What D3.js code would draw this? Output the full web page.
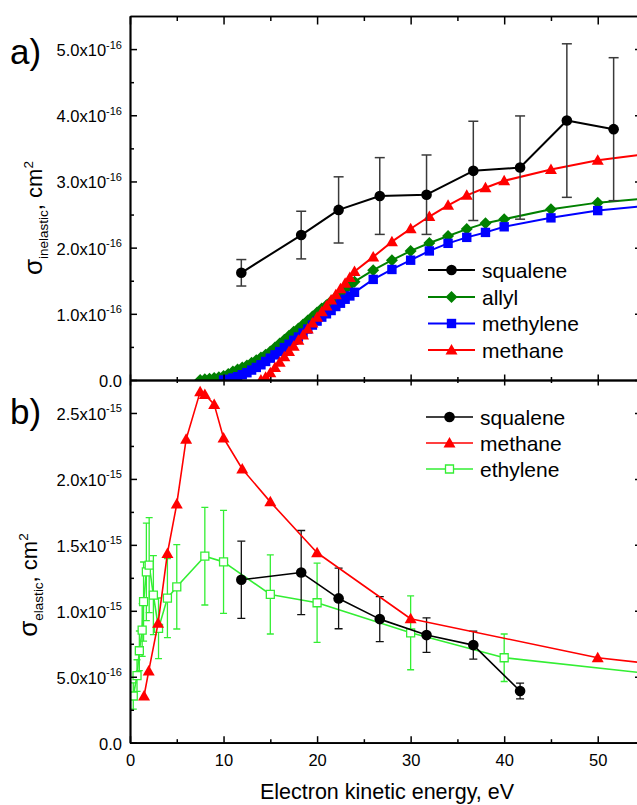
<!DOCTYPE html>
<html><head><meta charset="utf-8">
<script src="https://cdn.jsdelivr.net/npm/d3@7"></script>
<style>body{margin:0;background:#fff} svg text{font-family:"Liberation Sans",Arial,sans-serif;fill:#000}</style>
</head><body><svg id="c" width="637" height="805"></svg>
<script>
// ---------- DATA ----------
// x axis: electron kinetic energy (eV)
const xTickValues = [0, 10, 20, 30, 40, 50];
const xMinorValues = [5, 15, 25, 35, 45, 55];

// panel a) inelastic cross sections, units of 1e-16 cm^2
const inelTickValues = [0, 1, 2, 3, 4, 5];
const inelMinorValues = [0.5, 1.5, 2.5, 3.5, 4.5];
const inelTickLabels = [["0.0", ""], ["1.0x10", "-16"], ["2.0x10", "-16"], ["3.0x10", "-16"], ["4.0x10", "-16"], ["5.0x10", "-16"]];

const squaleneInelE   = [11.9, 18.3, 22.3, 26.7, 31.7, 36.7, 41.7, 46.7, 51.7];
const squaleneInel    = [1.62, 2.19, 2.57, 2.78, 2.80, 3.16, 3.21, 3.92, 3.79];
const squaleneInelErr = [0.20, 0.36, 0.50, 0.58, 0.60, 0.75, 0.78, 1.16, 1.08];

const allylE = [7.5, 8, 8.5, 9, 9.5, 10, 10.5, 11, 11.5, 12, 12.5, 13, 13.5, 14, 14.5, 15, 15.5, 16, 16.5, 17, 17.5, 18, 18.5, 19, 19.5, 20, 20.5, 21, 21.5, 22, 22.5, 23, 23.5, 24, 26, 28, 30, 32, 34, 36, 38, 40, 45, 50, 55];
const allyl  = [0.00, 0.01, 0.02, 0.03, 0.04, 0.06, 0.09, 0.13, 0.16, 0.19, 0.22, 0.26, 0.30, 0.34, 0.38, 0.43, 0.49, 0.55, 0.61, 0.67, 0.73, 0.78, 0.84, 0.90, 0.96, 1.02, 1.08, 1.13, 1.19, 1.25, 1.31, 1.37, 1.43, 1.485, 1.66, 1.81, 1.95, 2.07, 2.175, 2.28, 2.37, 2.43, 2.58, 2.68, 2.74];

const methyleneE = [10, 10.5, 11, 11.5, 12, 12.5, 13, 13.5, 14, 14.5, 15, 15.5, 16, 16.5, 17, 17.5, 18, 18.5, 19, 19.5, 20, 20.5, 21, 21.5, 22, 22.5, 23, 23.5, 24, 26, 28, 30, 32, 34, 36, 38, 40, 45, 50, 55];
const methylene  = [0.00, 0.01, 0.03, 0.05, 0.08, 0.11, 0.15, 0.19, 0.23, 0.28, 0.33, 0.38, 0.43, 0.49, 0.54, 0.60, 0.65, 0.71, 0.77, 0.83, 0.89, 0.95, 1.00, 1.05, 1.11, 1.16, 1.22, 1.27, 1.325, 1.52, 1.67, 1.81, 1.95, 2.065, 2.155, 2.23, 2.315, 2.45, 2.56, 2.63];

const methaneInelE = [14, 14.5, 15, 15.5, 16, 16.5, 17, 17.5, 18, 18.5, 19, 19.5, 20, 20.5, 21, 21.5, 22, 22.5, 23, 23.5, 24, 26, 28, 30, 32, 34, 36, 38, 40, 45, 50, 55];
const methaneInel  = [0.00, 0.04, 0.11, 0.19, 0.27, 0.35, 0.43, 0.51, 0.60, 0.68, 0.77, 0.86, 0.95, 1.03, 1.12, 1.21, 1.29, 1.38, 1.46, 1.55, 1.64, 1.86, 2.09, 2.285, 2.47, 2.64, 2.79, 2.905, 3.01, 3.18, 3.32, 3.41];

// panel b) elastic cross sections, units of 1e-15 cm^2
const elTickValues = [0, 0.5, 1, 1.5, 2, 2.5];
const elMinorValues = [0.25, 0.75, 1.25, 1.75, 2.25];
const elTickLabels = [["0.0", ""], ["5.0x10", "-16"], ["1.0x10", "-15"], ["1.5x10", "-15"], ["2.0x10", "-15"], ["2.5x10", "-15"]];

const squaleneElE   = [11.9, 18.3, 22.3, 26.7, 31.7, 36.7, 41.7];
const squaleneEl    = [1.235, 1.29, 1.094, 0.937, 0.816, 0.740, 0.392];
const squaleneElErr = [0.293, 0.319, 0.23, 0.17, 0.131, 0.106, 0.06];

const methaneElE = [1.5, 2, 3, 4, 5, 6, 7.5, 8, 9, 10, 12, 15, 20, 30, 50, 60];
const methaneEl  = [0.354, 0.543, 0.905, 1.435, 1.81, 2.30, 2.66, 2.64, 2.565, 2.31, 2.075, 1.826, 1.44, 0.94, 0.644, 0.565];

const ethyleneE   = [0.35, 0.75, 1.0, 1.3, 1.45, 1.75, 2.05, 2.5, 3.05, 4, 5, 8, 10, 15, 20, 30, 40, 60];
const ethylene    = [0.354, 0.509, 0.697, 0.854, 1.07, 1.295, 1.346, 1.119, 0.867, 1.096, 1.182, 1.414, 1.371, 1.124, 1.061, 0.833, 0.644, 0.49];
const ethyleneErr = [0.10, 0.12, 0.15, 0.20, 0.30, 0.37, 0.36, 0.30, 0.23, 0.30, 0.32, 0.37, 0.39, 0.30, 0.30, 0.28, 0.18, 0];

// ---------- CHART ----------
const svg = d3.select("#c");
const L = 130, R = 644.5, TOP = 16, MID = 380, BOT = 742.7;
const x = d3.scaleLinear().domain([0, 55]).range([L, R]);
const yA = d3.scaleLinear().domain([0, 5.5]).range([MID, TOP]);
const yB = d3.scaleLinear().domain([0, 2.75]).range([BOT, MID]);

const defs = svg.append("defs");
defs.append("clipPath").attr("id", "clipA").append("rect").attr("x", L).attr("y", TOP).attr("width", R - L).attr("height", MID - TOP);
defs.append("clipPath").attr("id", "clipB").append("rect").attr("x", L).attr("y", MID).attr("width", R - L).attr("height", BOT - MID);

const shapes = {
  circle: "M5.3,0A5.3,5.3 0 1,1 -5.3,0A5.3,5.3 0 1,1 5.3,0Z",
  diamond: "M0,-6L6,0L0,6L-6,0Z",
  square: "M-4.7,-4.7H4.7V4.7H-4.7Z",
  triangle: "M0,-6L6,4.5L-6,4.5Z",
  open: "M-4,-4H4V4H-4Z"
};

function series(g, xs, ys, y, o) {
  const pts = xs.map((e, i) => [e, ys[i], o.err ? o.err[i] : 0]);
  if (o.err) {
    const eg = g.append("g").attr("stroke", o.errColor).attr("stroke-width", o.errW).attr("fill", "none");
    pts.filter(p => p[2] > 0).forEach(p => {
      const cx = x(p[0]), y1 = y(p[1] - p[2]), y2 = y(p[1] + p[2]);
      eg.append("line").attr("x1", cx).attr("x2", cx).attr("y1", y1).attr("y2", y2);
      eg.append("line").attr("x1", cx - o.cap).attr("x2", cx + o.cap).attr("y1", y1).attr("y2", y1);
      eg.append("line").attr("x1", cx - o.cap).attr("x2", cx + o.cap).attr("y1", y2).attr("y2", y2);
    });
  }
  g.append("path").datum(pts)
    .attr("d", d3.line().x(p => x(p[0])).y(p => y(p[1])))
    .attr("fill", "none").attr("stroke", o.color).attr("stroke-width", o.lw).attr("stroke-linejoin", "round");
  g.append("g").selectAll("path").data(pts).join("path")
    .attr("transform", p => `translate(${x(p[0])},${y(p[1])})`)
    .attr("d", shapes[o.shape])
    .attr("fill", o.shape === "open" ? "#fff" : o.color)
    .attr("stroke", o.shape === "open" ? o.color : "none")
    .attr("stroke-width", 1.3);
}

// panel a
const gA = svg.append("g").attr("clip-path", "url(#clipA)");
series(gA, allylE, allyl, yA, {color: "#008000", lw: 2, shape: "diamond"});
series(gA, methyleneE, methylene, yA, {color: "#0000ff", lw: 2, shape: "square"});
series(gA, methaneInelE, methaneInel, yA, {color: "#ff0000", lw: 2, shape: "triangle"});
series(gA, squaleneInelE, squaleneInel, yA, {color: "#000", lw: 2, shape: "circle", err: squaleneInelErr, errColor: "#3a3a3a", errW: 1.5, cap: 5});

// panel b
const gB = svg.append("g").attr("clip-path", "url(#clipB)");
series(gB, ethyleneE, ethylene, yB, {color: "#33ee33", lw: 1.6, shape: "open", err: ethyleneErr, errColor: "#33ee33", errW: 1.3, cap: 3.5});
series(gB, squaleneElE, squaleneEl, yB, {color: "#000", lw: 1.6, shape: "circle", err: squaleneElErr, errColor: "#111", errW: 1.3, cap: 4});
series(gB, methaneElE, methaneEl, yB, {color: "#ff0000", lw: 1.6, shape: "triangle"});

// ---------- AXES ----------
function styleAxis(g) {
  g.selectAll("path.domain").attr("stroke", "#000").attr("stroke-width", 1.7);
  g.selectAll(".tick line").attr("stroke", "#000").attr("stroke-width", 1.5);
}
function sciLabels(g, labels) {
  g.selectAll(".tick text").each(function(d, i) {
    const t = d3.select(this).text(null).attr("font-size", 16.5).attr("x", -8).attr("dy", null).attr("y", 6.5);
    t.append("tspan").text(labels[i][0]);
    if (labels[i][1]) t.append("tspan").attr("font-size", 11).attr("dy", -7.5).text(labels[i][1]);
  });
}

// left axes
const la = svg.append("g").attr("transform", `translate(${L},0)`);
la.call(d3.axisLeft(yA).tickValues(inelTickValues).tickSize(-7).tickSizeOuter(0).tickPadding(8));
sciLabels(la, inelTickLabels); styleAxis(la);
const laM = svg.append("g").attr("transform", `translate(${L},0)`);
laM.call(d3.axisLeft(yA).tickValues(inelMinorValues).tickSize(-4).tickSizeOuter(0).tickFormat(""));
styleAxis(laM);

const lb = svg.append("g").attr("transform", `translate(${L},0)`);
lb.call(d3.axisLeft(yB).tickValues(elTickValues).tickSize(-7).tickSizeOuter(0).tickPadding(8));
sciLabels(lb, elTickLabels); styleAxis(lb);
const lbM = svg.append("g").attr("transform", `translate(${L},0)`);
lbM.call(d3.axisLeft(yB).tickValues(elMinorValues).tickSize(-4).tickSizeOuter(0).tickFormat(""));
styleAxis(lbM);

// right axes
[[yA, inelTickValues], [yB, elTickValues]].forEach(([sc, v]) => {
  const g = svg.append("g").attr("transform", `translate(${R},0)`);
  g.call(d3.axisRight(sc).tickValues(v).tickSize(-9.5).tickSizeOuter(0).tickFormat(""));
  styleAxis(g);
});

// top axis
const ta = svg.append("g").attr("transform", `translate(0,${TOP})`);
ta.call(d3.axisTop(x).tickValues(xTickValues).tickSize(-8.5).tickSizeOuter(0).tickFormat(""));
styleAxis(ta);
const taM = svg.append("g").attr("transform", `translate(0,${TOP})`);
taM.call(d3.axisTop(x).tickValues(xMinorValues).tickSize(-5).tickSizeOuter(0).tickFormat(""));
styleAxis(taM);

// middle axis (ticks both sides)
[[d3.axisBottom, -5.5, -3], [d3.axisTop, -5.5, -3]].forEach(([ax, maj, mn]) => {
  const g = svg.append("g").attr("transform", `translate(0,${MID})`);
  g.call(ax(x).tickValues(xTickValues).tickSize(maj).tickSizeOuter(0).tickFormat(""));
  styleAxis(g);
  const g2 = svg.append("g").attr("transform", `translate(0,${MID})`);
  g2.call(ax(x).tickValues(xMinorValues).tickSize(mn).tickSizeOuter(0).tickFormat(""));
  styleAxis(g2);
});

// bottom axis
const ba = svg.append("g").attr("transform", `translate(0,${BOT})`);
ba.call(d3.axisBottom(x).tickValues(xTickValues).tickSize(-6.5).tickSizeOuter(0).tickPadding(12).tickFormat(d3.format("d")));
ba.selectAll(".tick text").attr("font-size", 16.5).attr("fill", "#000");
styleAxis(ba);
const baM = svg.append("g").attr("transform", `translate(0,${BOT})`);
baM.call(d3.axisBottom(x).tickValues(xMinorValues).tickSize(-3.5).tickSizeOuter(0).tickFormat(""));
styleAxis(baM);
svg.selectAll(".tick text").attr("font-family", "Liberation Sans, Arial, sans-serif").attr("fill", "#000");

// ---------- TITLES ----------
svg.append("text").attr("x", 387).attr("y", 799).attr("text-anchor", "middle")
  .attr("font-size", 21.5).text("Electron kinetic energy, eV");

function yTitle(cx, cy, sub) {
  const t = svg.append("text").attr("transform", `translate(${cx},${cy}) rotate(-90)`).attr("text-anchor", "middle");
  t.append("tspan").attr("font-size", 26).text("σ");
  t.append("tspan").attr("font-size", 13.5).attr("dy", 6).text(sub);
  t.append("tspan").attr("font-size", 22).attr("dy", -6).text(", cm");
  t.append("tspan").attr("font-size", 13.5).attr("dy", -9).text("2");
}
yTitle(42, 218, "inelastic");
yTitle(37, 585, "elastic");

svg.append("text").attr("x", 10).attr("y", 64).attr("font-family", "Open Sans, sans-serif").attr("font-size", 35).text("a)");
svg.append("text").attr("x", 10).attr("y", 424).attr("font-family", "Open Sans, sans-serif").attr("font-size", 35).text("b)");

// ---------- LEGENDS ----------
function legend(items, x0, x1, tx, ys) {
  items.forEach((it, i) => {
    const g = svg.append("g");
    g.append("line").attr("x1", x0).attr("x2", x1).attr("y1", ys[i]).attr("y2", ys[i]).attr("stroke", it.color).attr("stroke-width", it.lw);
    g.append("path").attr("transform", `translate(${(x0 + x1) / 2},${ys[i]})`).attr("d", shapes[it.shape])
      .attr("fill", it.shape === "open" ? "#fff" : it.color).attr("stroke", it.shape === "open" ? it.color : "none").attr("stroke-width", 1.3);
    g.append("text").attr("x", tx).attr("y", ys[i] + 7.5).attr("font-size", 21).text(it.name);
  });
}
legend([
  {name: "squalene", color: "#000", shape: "circle", lw: 2},
  {name: "allyl", color: "#008000", shape: "diamond", lw: 2},
  {name: "methylene", color: "#0000ff", shape: "square", lw: 2},
  {name: "methane", color: "#ff0000", shape: "triangle", lw: 2}
], 428, 475, 482, [270, 297, 323.5, 350]);
legend([
  {name: "squalene", color: "#000", shape: "circle", lw: 1.6},
  {name: "methane", color: "#ff0000", shape: "triangle", lw: 1.6},
  {name: "ethylene", color: "#33ee33", shape: "open", lw: 1.6}
], 426, 473, 480, [417, 443, 469]);
</script></body></html>
